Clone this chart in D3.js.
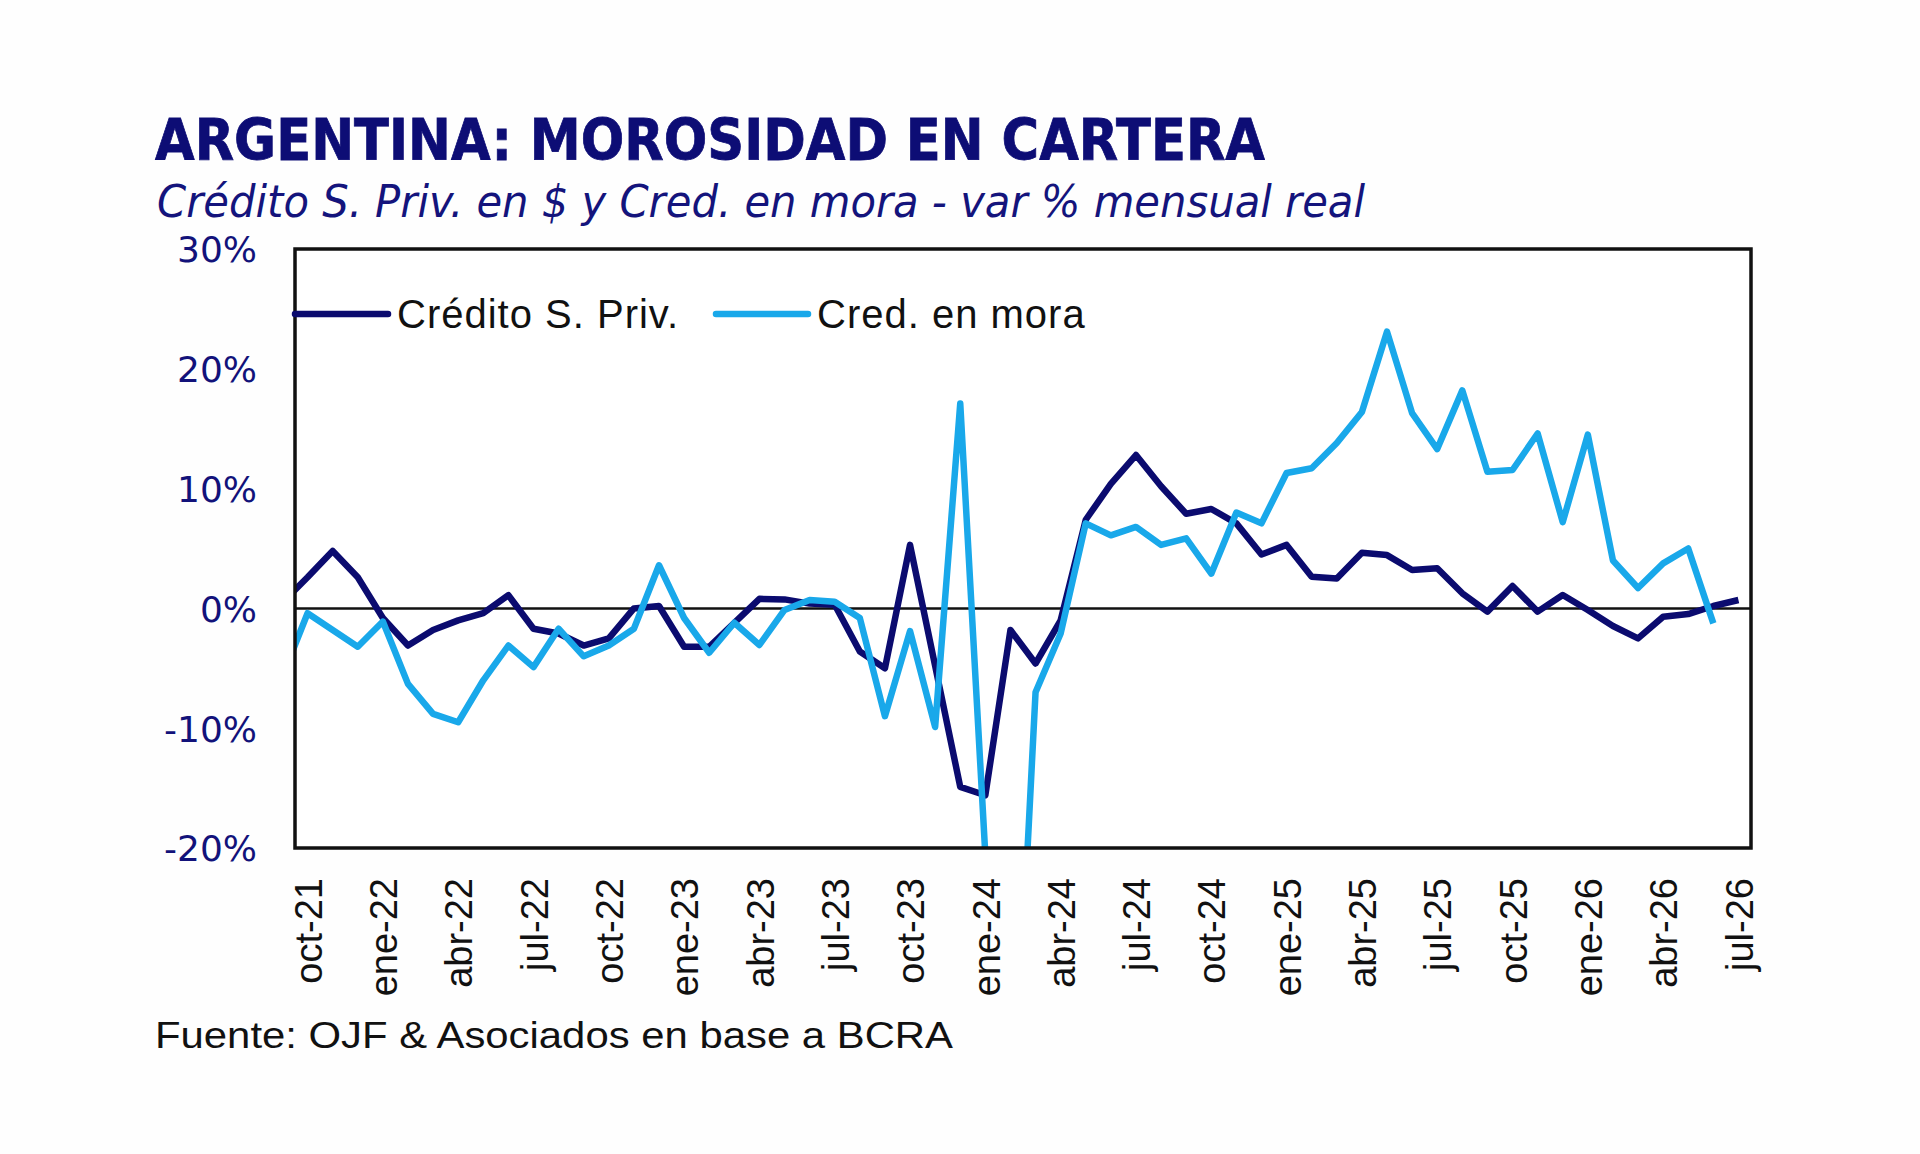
<!DOCTYPE html>
<html>
<head>
<meta charset="utf-8">
<script src="https://cdn.jsdelivr.net/npm/d3@7"></script>
<style>
  body { margin: 0; background: #fefefe; }
  svg { display: block; }
</style>
</head>
<body>
<div id="chart"></div>
<script>
// meses (sep-21 queda fuera del eje, solo para que la linea entre por el borde)
var meses = ["sep-21", "oct-21", "nov-21", "dic-21", "ene-22", "feb-22", "mar-22", "abr-22", "may-22", "jun-22",
    "jul-22", "ago-22", "sep-22", "oct-22", "nov-22", "dic-22", "ene-23", "feb-23", "mar-23", "abr-23",
    "may-23", "jun-23", "jul-23", "ago-23", "sep-23", "oct-23", "nov-23", "dic-23", "ene-24", "feb-24",
    "mar-24", "abr-24", "may-24", "jun-24", "jul-24", "ago-24", "sep-24", "oct-24", "nov-24", "dic-24",
    "ene-25", "feb-25", "mar-25", "abr-25", "may-25", "jun-25", "jul-25", "ago-25", "sep-25", "oct-25",
    "nov-25", "dic-25", "ene-26", "feb-26", "mar-26", "abr-26", "may-26", "jun-26", "jul-26"];

var credito = [0.5, 2.6, 4.8, 2.6, -0.8, -3.1, -1.8, -1.0, -0.4, 1.1,
    -1.7, -2.1, -3.1, -2.5, 0.0, 0.2, -3.2, -3.2, -1.2, 0.8,
    0.75, 0.4, 0.3, -3.6, -5.0, 5.3, -4.8, -14.9, -15.6, -1.8,
    -4.6, -1.0, 7.4, 10.4, 12.8, 10.2, 7.9, 8.3, 7.1, 4.5,
    5.3, 2.65, 2.5, 4.65, 4.45, 3.2, 3.35, 1.26, -0.27, 1.87,
    -0.27, 1.12, -0.13, -1.47, -2.5, -0.69, -0.47, 0.2, 0.7];

var mora = [-5.7, -0.4, -1.8, -3.2, -1.1, -6.3, -8.8, -9.5, -6.0, -3.1,
    -4.9, -1.7, -4.0, -3.1, -1.7, 3.6, -0.8, -3.7, -1.2, -3.05,
    -0.13, 0.7, 0.56, -0.8, -9.0, -1.9, -9.9, 17.1, -20.6, -48,
    -7.0, -2.1, 7.1, 6.1, 6.8, 5.3, 5.85, 2.9, 8.0, 7.1,
    11.3, 11.7, 13.8, 16.4, 23.1, 16.3, 13.3, 18.2, 11.4, 11.55,
    14.6, 7.2, 14.5, 4.0, 1.7, 3.76, 5.0, -1.25, null];

var etiquetasX = ["oct-21", "ene-22", "abr-22", "jul-22", "oct-22", "ene-23", "abr-23", "jul-23", "oct-23", "ene-24",
    "abr-24", "jul-24", "oct-24", "ene-25", "abr-25", "jul-25", "oct-25", "ene-26", "abr-26", "jul-26"];

var ticksY = [-20, -10, 0, 10, 20, 30];

var series = [
    {name: "Crédito S. Priv.", values: credito, color: "#0b0b6f"},
    {name: "Cred. en mora", values: mora, color: "#19a8ea"}
];

var WIDTH = 1920, HEIGHT = 1154;
var LEFT = 295, RIGHT = 1751, TOP = 249, BOTTOM = 848;
var NAVY = "#12127a";

var svg = d3.select("#chart").append("svg")
    .attr("width", WIDTH)
    .attr("height", HEIGHT);

svg.append("rect").attr("width", WIDTH).attr("height", HEIGHT).attr("fill", "#fefefe");

// eje x: indice de mes, oct-21 = 1, con media categoria a cada lado
var x = d3.scaleLinear()
    .domain([0.5, meses.length - 0.5])
    .range([LEFT, RIGHT]);

var y = d3.scaleLinear()
    .domain([-20, 30])
    .range([BOTTOM, TOP]);

// titulos
svg.append("text")
    .attr("x", 155).attr("y", 160)
    .attr("textLength", 1110).attr("lengthAdjust", "spacingAndGlyphs")
    .style("font-family", "'DejaVu Sans', Verdana, sans-serif")
    .style("font-weight", "bold")
    .style("font-size", "57px")
    .attr("fill", "#0d0d75")
    .attr("stroke", "#0d0d75").attr("stroke-width", 0.8)
    .text("ARGENTINA: MOROSIDAD EN CARTERA");

svg.append("text")
    .attr("x", 157).attr("y", 217)
    .attr("textLength", 1208).attr("lengthAdjust", "spacingAndGlyphs")
    .style("font-family", "'DejaVu Sans Condensed', 'DejaVu Sans', sans-serif")
    .style("font-style", "italic")
    .style("font-size", "44px")
    .attr("fill", "#14147c")
    .text("Crédito S. Priv. en $ y Cred. en mora - var % mensual real");

// area de grafico
svg.append("rect")
    .attr("x", LEFT).attr("y", TOP)
    .attr("width", RIGHT - LEFT).attr("height", BOTTOM - TOP)
    .attr("fill", "#ffffff");

svg.append("clipPath").attr("id", "clip")
    .append("rect")
    .attr("x", LEFT).attr("y", TOP)
    .attr("width", RIGHT - LEFT).attr("height", BOTTOM - TOP);

// eje y
var yAxis = svg.append("g")
    .attr("transform", "translate(" + (LEFT - 38) + ",0)")
    .call(d3.axisLeft(y).tickValues(ticksY).tickSize(0).tickFormat(function (d) { return d + "%"; }));
yAxis.select(".domain").remove();
yAxis.selectAll("text")
    .attr("x", 0)
    .attr("dy", "0.36em")
    .style("font-family", "'DejaVu Sans', Verdana, sans-serif")
    .style("font-size", "36px")
    .attr("fill", NAVY);

// eje x, etiquetas verticales
var xAxis = svg.append("g")
    .attr("transform", "translate(0," + BOTTOM + ")")
    .call(d3.axisBottom(x)
        .tickValues(etiquetasX.map(function (d) { return meses.indexOf(d); }))
        .tickSize(0)
        .tickFormat(function (d) { return meses[d]; }));
xAxis.select(".domain").remove();
xAxis.selectAll("text")
    .attr("x", -30)
    .attr("y", 0)
    .attr("dy", "0.36em")
    .attr("transform", "rotate(-90)")
    .style("text-anchor", "end")
    .style("font-family", "'Liberation Sans', Arial, sans-serif")
    .style("font-size", "38px")
    .attr("fill", "#111");

// linea de cero
svg.append("line")
    .attr("x1", LEFT).attr("x2", RIGHT)
    .attr("y1", y(0)).attr("y2", y(0))
    .attr("stroke", "#111").attr("stroke-width", 2.5);

// series
var line = d3.line()
    .defined(function (d) { return d != null; })
    .x(function (d, i) { return x(i); })
    .y(function (d) { return y(d); });

var lines = svg.append("g").attr("clip-path", "url(#clip)");
lines.selectAll("path")
    .data(series)
    .enter().append("path")
    .attr("d", function (d) { return line(d.values); })
    .attr("fill", "none")
    .attr("stroke", function (d) { return d.color; })
    .attr("stroke-width", 6.5)
    .attr("stroke-linejoin", "round");

// marco
svg.append("rect")
    .attr("x", LEFT).attr("y", TOP)
    .attr("width", RIGHT - LEFT).attr("height", BOTTOM - TOP)
    .attr("fill", "none")
    .attr("stroke", "#111").attr("stroke-width", 3.5);

// leyenda
var legend = [
    {x1: LEFT, x2: 388, tx: 397},
    {x1: 716, x2: 808, tx: 817}
];
var leg = svg.append("g").selectAll("g")
    .data(series)
    .enter().append("g");
leg.append("line")
    .attr("x1", function (d, i) { return legend[i].x1; })
    .attr("x2", function (d, i) { return legend[i].x2; })
    .attr("y1", 314).attr("y2", 314)
    .attr("stroke", function (d) { return d.color; })
    .attr("stroke-width", 6.5)
    .attr("stroke-linecap", "round");
leg.append("text")
    .attr("x", function (d, i) { return legend[i].tx; })
    .attr("y", 314)
    .attr("dy", "0.36em")
    .style("font-family", "'Liberation Sans', Arial, sans-serif")
    .style("font-size", "40px")
    .style("letter-spacing", "1px")
    .attr("fill", "#111")
    .text(function (d) { return d.name; });

// fuente
svg.append("text")
    .attr("x", 155).attr("y", 1048)
    .attr("textLength", 798).attr("lengthAdjust", "spacingAndGlyphs")
    .style("font-family", "'Liberation Sans', Arial, sans-serif")
    .style("font-size", "37px")
    .attr("fill", "#111")
    .text("Fuente: OJF & Asociados en base a BCRA");
</script>
</body>
</html>
